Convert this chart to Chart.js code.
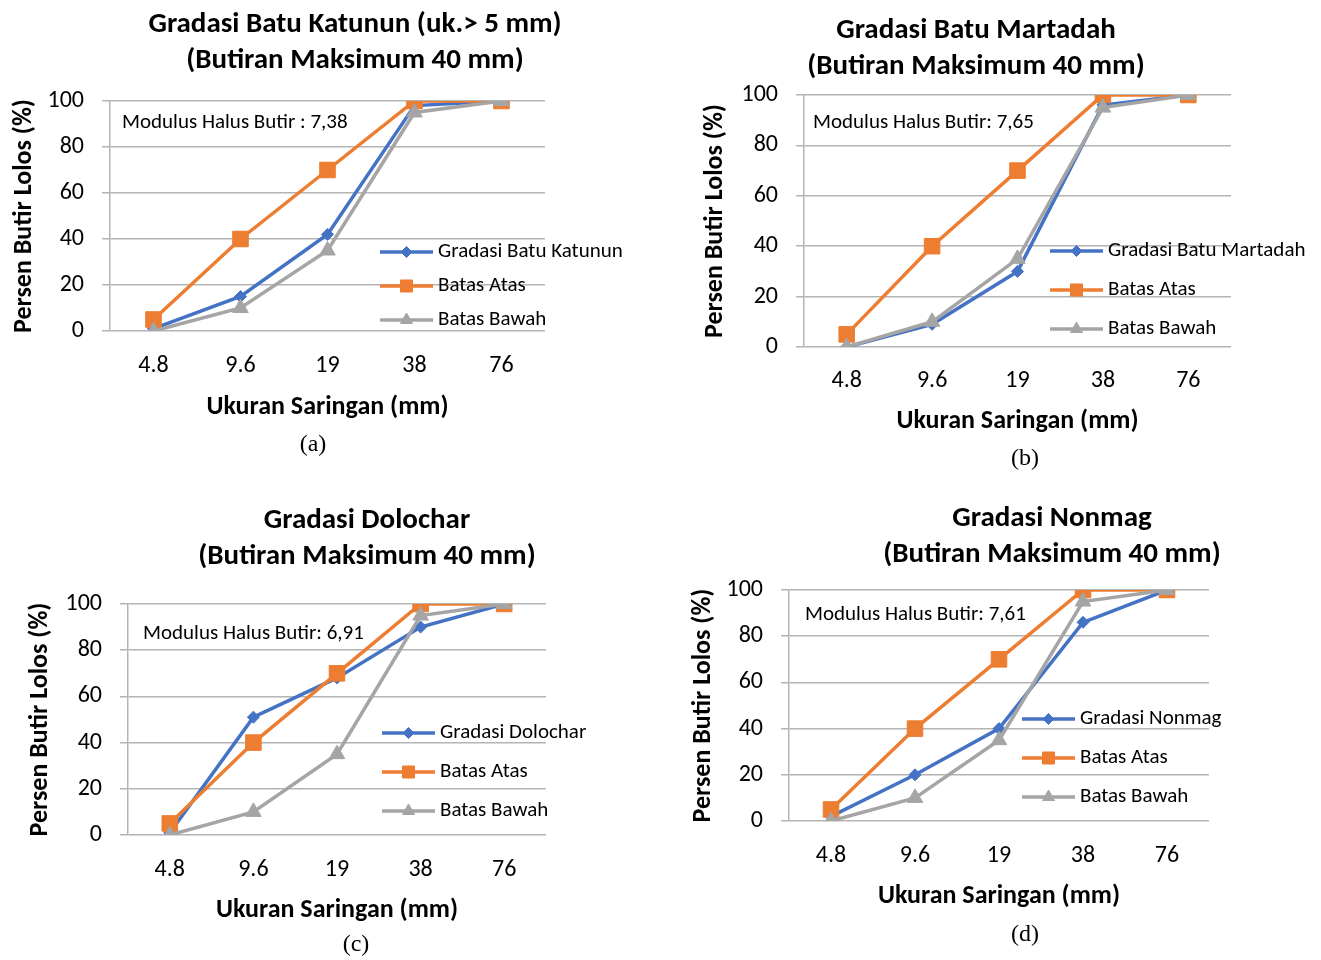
<!DOCTYPE html>
<html><head><meta charset="utf-8">
<script src="https://cdn.jsdelivr.net/npm/chart.js@4.4.1/dist/chart.umd.min.js"></script>
<style>
html,body{margin:0;padding:0;background:#fff;}
body{width:1321px;height:960px;position:relative;overflow:hidden;}
.panel{position:absolute;}
.panel canvas{display:block;}
</style></head><body>
<div class="panel" id="pA" style="left:0px;top:0px;width:660px;height:470px"><canvas id="cA"></canvas></div>
<div class="panel" id="pB" style="left:660px;top:0px;width:661px;height:480px"><canvas id="cB"></canvas></div>
<div class="panel" id="pC" style="left:0px;top:480px;width:660px;height:480px"><canvas id="cC"></canvas></div>
<div class="panel" id="pD" style="left:660px;top:480px;width:661px;height:480px"><canvas id="cD"></canvas></div>
<script>
// ---------- data ----------
const sieveSizes = ['4.8', '9.6', '19', '38', '76'];
const yTickValues = [0, 20, 40, 60, 80, 100];
const batasAtas = [5, 40, 70, 100, 100];
const batasBawah = [0, 10, 35, 95, 100];
const gradasiKatunun = [1, 15, 42, 98, 100];
const gradasiMartadah = [0, 9, 30, 96, 100];
const gradasiDolochar = [1, 51, 68, 90, 100];
const gradasiNonmag = [2, 20, 40, 86, 100];
const seriesNames = ['Gradasi Batu Katunun', 'Gradasi Batu Martadah', 'Gradasi Dolochar', 'Gradasi Nonmag'];
const chartTitles = [
  ['Gradasi Batu Katunun (uk.> 5 mm)', '(Butiran Maksimum 40 mm)'],
  ['Gradasi Batu Martadah', '(Butiran Maksimum 40 mm)'],
  ['Gradasi Dolochar', '(Butiran Maksimum 40 mm)'],
  ['Gradasi Nonmag', '(Butiran Maksimum 40 mm)']
];
const modulusNotes = ['Modulus Halus Butir : 7,38', 'Modulus Halus Butir: 7,65', 'Modulus Halus Butir: 6,91', 'Modulus Halus Butir: 7,61'];
const captions = ['(a)', '(b)', '(c)', '(d)'];
const xAxisTitle = 'Ukuran Saringan (mm)';
const yAxisTitle = 'Persen Butir Lolos (%)';
const upperName = 'Batas Atas';
const lowerName = 'Batas Bawah';

// ---------- styling ----------
const FONT = 'Carlito, Lato, "Open Sans", sans-serif';
const BLUE = '#4472C4', ORANGE = '#ED7D31', GRAY = '#A5A5A5';
const GRID = '#b4b4b4';
const TICK_SIZE = 24, AXT_SIZE = 26, TITLE_SIZE = 29, LEG_SIZE = 21, NOTE_SIZE = 21;
const LH = 1.2;

// panel layout (canvas coords)
const panels = [
  {canvas:'cA', w:660, h:470, area:{l:110, r:545, t:101, b:331}, yTitleX:24, xTickY:366, xTitleY:407,
   titleX:355, titleY:[25,61], noteX:122, noteY:123, legX:380, legY:[252,286,320], capX:313, capY:445},
  {canvas:'cB', w:661, h:480, area:{l:144, r:571, t:95, b:347}, yTitleX:55, xTickY:381, xTitleY:421,
   titleX:316, titleY:[31,67], noteX:153, noteY:123, legX:390, legY:[251,290,329], capX:365, capY:459},
  {canvas:'cC', w:660, h:480, area:{l:128, r:546, t:124, b:355}, yTitleX:40, xTickY:390, xTitleY:430,
   titleX:367, titleY:[41,77], noteX:143, noteY:154, legX:382, legY:[253,292,331], capX:356, capY:465},
  {canvas:'cD', w:661, h:480, area:{l:129, r:549, t:110, b:341}, yTitleX:43, xTickY:376, xTitleY:416,
   titleX:392, titleY:[39,75], noteX:145, noteY:135, legX:362, legY:[239,278,317], capX:365, capY:455}
];
const gradasiSeries = [gradasiKatunun, gradasiMartadah, gradasiDolochar, gradasiNonmag];

const markerStyles = [
  {pointStyle:'rectRot', radius:6, legendRadius:5.5},
  {pointStyle:'rect', radius:11, legendRadius:8.5},
  {pointStyle:'triangle', radius:9, legendRadius:7}
];

function drawMarker(ctx, style, r, x, y, color) {
  ctx.save();
  ctx.fillStyle = color; ctx.strokeStyle = color; ctx.lineWidth = 1;
  if (Chart.helpers && Chart.helpers.drawPoint) {
    Chart.helpers.drawPoint(ctx, {pointStyle: style, radius: r, rotation: 0, borderWidth: 1}, x, y);
  }
  ctx.restore();
}

function makeDecoPlugin(p, idx) {
  return {
    id: 'deco' + idx,
    afterDraw(chart) {
      const ctx = chart.ctx;
      ctx.save();
      ctx.fillStyle = '#000';
      ctx.textAlign = 'center'; ctx.textBaseline = 'middle';
      ctx.font = 'bold ' + TITLE_SIZE + 'px ' + FONT;
      chartTitles[idx].forEach((line, i) => ctx.fillText(line, p.titleX, p.titleY[i]));
      ctx.textAlign = 'left';
      ctx.font = NOTE_SIZE + 'px ' + FONT;
      ctx.fillText(modulusNotes[idx], p.noteX, p.noteY);
      const ds = chart.data.datasets;
      ds.forEach((d, i) => {
        const y = p.legY[i];
        ctx.save();
        ctx.strokeStyle = d.borderColor; ctx.lineWidth = 3.5;
        ctx.beginPath(); ctx.moveTo(p.legX, y); ctx.lineTo(p.legX + 53, y); ctx.stroke();
        ctx.restore();
        drawMarker(ctx, markerStyles[i].pointStyle, markerStyles[i].legendRadius, p.legX + 26.5, y, d.borderColor);
        ctx.fillStyle = '#000';
        ctx.font = LEG_SIZE + 'px ' + FONT;
        ctx.textAlign = 'left'; ctx.textBaseline = 'middle';
        ctx.fillText(d.label, p.legX + 58, y);
      });
      ctx.fillStyle = '#000';
      ctx.textAlign = 'center';
      ctx.font = '24px "Liberation Serif", "Times New Roman", serif';
      ctx.fillText(captions[idx], p.capX, p.capY);
      ctx.restore();
    }
  };
}

panels.forEach((p, idx) => {
  const tickLH = TICK_SIZE * LH, axtLH = AXT_SIZE * LH;
  const hx = p.xTitleY - p.area.b + axtLH / 2;
  const padBottom = p.h - p.area.b - hx;
  const xTickPad = p.xTickY - p.area.b - tickLH / 2;
  const yTitlePad = p.yTitleX - axtLH / 2;
  const el = document.getElementById(p.canvas);
  el.width = p.w; el.height = p.h;
  const mk = (label, data, color, m, order) => ({
    label, data, borderColor: color, backgroundColor: color,
    borderWidth: 3.5, pointStyle: m.pointStyle, pointRadius: m.radius,
    pointHoverRadius: m.radius, pointBorderWidth: 1, pointBackgroundColor: color, pointBorderColor: color,
    tension: 0, order
  });
  new Chart(el, {
    type: 'line',
    data: {
      labels: sieveSizes,
      datasets: [
        mk(seriesNames[idx], gradasiSeries[idx], BLUE, markerStyles[0], 3),
        mk(upperName, batasAtas, ORANGE, markerStyles[1], 2),
        mk(lowerName, batasBawah, GRAY, markerStyles[2], 1)
      ]
    },
    options: {
      responsive: false, animation: false, devicePixelRatio: 1,
      layout: {padding: {left: 0, top: p.area.t, right: p.w - p.area.r, bottom: padBottom}},
      plugins: {legend: {display: false}, title: {display: false}, tooltip: {enabled: false}},
      scales: {
        x: {
          type: 'category', offset: true,
          grid: {display: false, drawTicks: false},
          border: {display: false},
          ticks: {padding: xTickPad, color: '#000', font: {family: FONT, size: TICK_SIZE, lineHeight: LH}, maxRotation: 0, autoSkip: false},
          title: {display: true, text: xAxisTitle, color: '#000', padding: {top: 0, bottom: 0},
                  font: {family: FONT, size: AXT_SIZE, weight: 'bold', lineHeight: LH}},
          afterFit: (s) => { s.height = hx; }
        },
        y: {
          min: 0, max: 100,
          afterBuildTicks: (s) => { s.ticks = yTickValues.map(v => ({value: v})); },
          grid: {color: GRID, lineWidth: 1.5, drawTicks: true, tickLength: 8, tickColor: GRID},
          border: {display: true, color: GRID, width: 1.5},
          ticks: {padding: 18, color: '#000', font: {family: FONT, size: TICK_SIZE, lineHeight: LH}},
          title: {display: true, text: yAxisTitle, color: '#000', padding: {top: yTitlePad, bottom: 0},
                  font: {family: FONT, size: AXT_SIZE, weight: 'bold', lineHeight: LH}},
          afterFit: (s) => { s.width = p.area.l; }
        }
      }
    },
    plugins: [makeDecoPlugin(p, idx)]
  });
});
</script>
</body></html>
